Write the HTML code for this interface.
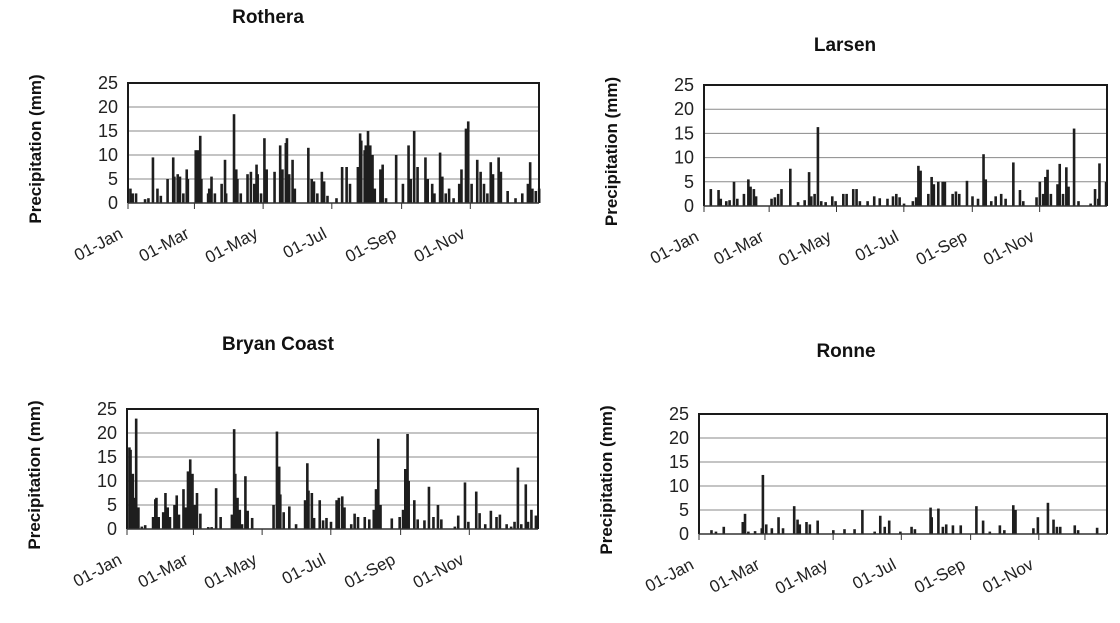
<!DOCTYPE html>
<html><head><meta charset="utf-8"><style>
html,body{margin:0;padding:0;background:#fff;}
svg{display:block;font-family:"Liberation Sans",Arial,sans-serif;}
</style></head><body>
<svg id="root" width="1120" height="623" viewBox="0 0 1120 623"></svg>
<script>
const monthLabels=["01-Jan","01-Mar","01-May","01-Jul","01-Sep","01-Nov"];
const monthDays=[0,59,120,181,243,304];
const yTicks=[0,5,10,15,20,25];
const rotheraDays=[1,3,6,14,17,21,25,28,34,39,40,43,45,48,51,52,59,61,63,64,70,71,73,76,82,85,86,93,95,96,99,105,108,111,113,114,117,120,122,129,134,136,139,140,142,145,147,159,162,164,167,171,173,176,184,189,193,196,203,205,206,209,210,212,214,216,218,223,225,228,237,243,248,250,253,256,263,265,269,271,276,278,281,284,288,293,295,299,301,304,309,312,315,318,321,323,328,330,336,343,349,354,356,358,361,364];
const rotheraVals=[3,2,2,0.8,1,9.5,3,1.5,5,9.5,5.5,6,5.5,2,7,5,11,11,14,5,2,3,5.5,2,4,9,2,18.5,7,5,2,6,6.5,4,8,6,2,13.5,7,6.5,12,7,12.5,13.5,6,9,3,11.5,5,4.5,2,6.5,4.5,1.5,1,7.5,7.5,4,7.5,14.5,13,11,12,15,12,10,3,7,8,1,10,4,12,5,15,7.5,9.5,5,4,2,10.5,5.5,2,3,1,4,7,15.5,17,4,9,6.5,4,2,8.5,6,9.5,6.5,2.5,1,2,4,8.5,3,2.5,3];
const larsenDays=[5,12,14,19,22,26,29,35,39,41,44,46,60,63,66,69,77,84,90,94,96,99,102,105,109,115,118,125,128,134,137,140,147,153,158,165,170,173,176,180,188,191,193,195,202,205,207,211,215,217,224,227,230,237,242,247,252,254,259,263,268,272,279,285,288,300,303,306,308,310,313,319,321,324,327,329,334,338,349,353,356,357,363];
const larsenVals=[3.5,3.3,1.5,1,1.2,5,1.5,2.5,5.5,4,3.5,2,1.5,1.8,2.5,3.5,7.7,0.8,1.2,7,2,2.5,16.3,1,0.8,2,1,2.5,2.5,3.5,3.5,1,1,2,1.6,1.5,2,2.5,1.8,0.5,1,1.8,8.3,7.3,2.5,6,4.5,5,5,5,2.5,3,2.5,5.2,2,1.5,10.7,5.5,1,2,2.5,1.5,9,3.3,1,1.8,5,2.5,6,7.5,2.5,4.5,8.7,2.5,8,4,16,1,0.5,3.5,1.5,8.8,5];
const bryanDays=[1,2,4,5,7,9,12,15,22,24,25,27,31,33,35,37,41,43,45,49,51,53,55,57,59,61,64,71,74,78,82,92,94,95,97,99,101,104,106,110,129,132,134,135,138,143,149,157,159,160,163,165,170,173,176,180,185,187,190,192,198,201,204,210,214,218,220,222,224,234,241,244,246,248,249,254,257,263,267,271,275,278,290,293,299,302,309,312,317,322,327,330,336,340,343,346,349,353,355,358,362];
const bryanVals=[17,16.5,11.5,6.5,23,4.5,0.5,0.8,2.5,6.2,6.5,2.5,3.5,7.5,4.5,2.5,5,7,3,8.3,4.5,12,14.5,11.5,5,7.5,3.2,0.4,0.4,8.5,2.5,3,20.8,11.5,6.5,4,1,11,3.8,2.3,5,20.3,13,7.2,3.5,4.7,1,6,13.7,8,7.5,2.3,6,1.8,2.3,1.5,6,6.5,6.8,4.5,1,3.2,2.5,2.5,2,4,8.3,18.8,5,2.2,2.5,4,12.5,19.8,10,6,2,1.8,8.8,2.5,5,2,0.5,2.8,9.7,1.5,7.8,3.3,1,3.8,2.5,3,1,0.5,1.5,12.8,1,9.3,1.5,4,2.8];
const ronneDays=[10,14,21,38,40,43,49,55,56,59,64,70,74,84,87,89,95,98,105,119,129,138,145,156,161,165,169,179,189,192,206,207,213,217,220,226,233,247,253,259,268,272,280,282,298,302,311,316,319,322,335,338,355];
const ronneVals=[0.8,0.5,1.5,2.5,4.2,0.5,0.6,1.2,12.3,2,1.2,3.5,1.2,5.8,3,2,2.5,2,2.8,0.8,1,1,5,0.5,3.8,1.5,2.8,0.5,1.5,1,5.5,3.5,5.3,1.5,2,1.8,1.8,5.8,2.8,0.5,1.8,0.8,6,5,1.2,3.5,6.5,3,1.5,1.5,1.8,0.8,1.3];

const NS="http://www.w3.org/2000/svg";
const root=document.getElementById('root');
function mk(tag,attrs,parent){const e=document.createElementNS(NS,tag);for(const k in attrs)e.setAttribute(k,attrs[k]);(parent||root).appendChild(e);return e;}

function panel(key,title,titleX,titleY,L,T,R,B,days,vals){
  const g=mk('g',{});
  
  
  const xs=d=>L+(R-L)*d/365;
  const ys=v=>B-(B-T)*v/25;
  const t=mk('text',{x:titleX,y:titleY,'text-anchor':'middle','font-size':19,'font-weight':'bold',fill:'#111'},g);
  t.textContent=title;
  
  
  const yt=mk('text',{transform:`translate(${L-87},${(T+B)/2+6}) rotate(-90)`,'text-anchor':'middle','font-size':17,'font-weight':'bold',fill:'#111'},g);
  yt.textContent='Precipitation (mm)';
  
  
  yTicks.forEach(v=>{
    if(v>0&&v<25){const gl=mk('line',{x1:L,x2:R,y1:ys(v),y2:ys(v),stroke:'#8a8a8a','stroke-width':1},g);
      
      }
    const tl=mk('text',{x:L-10,y:ys(v)+6,'text-anchor':'end','font-size':18,fill:'#222'},g);
    tl.textContent=v;
    
    
  });
  const bw=2.6;
  days.forEach((d,i)=>{
    const b=mk('rect',{x:xs(d),y:ys(vals[i]),width:bw,height:B-ys(vals[i]),fill:'#1e1e1e'},g);
    
    
  });
  const fr=mk('path',{d:`M${L},${B} L${L},${T} L${R},${T} L${R},${B}`,fill:'none',stroke:'#1a1a1a','stroke-width':2},g);
  
  
  const ax=mk('line',{x1:L,x2:R,y1:B,y2:B,stroke:'#333','stroke-width':1.5},g);
  
  
  monthDays.forEach((d,i)=>{
    const x=xs(d);
    const tk=mk('line',{x1:x,x2:x,y1:B,y2:B+6,stroke:'#333','stroke-width':1},g);
    
    
    const lb=mk('text',{transform:`translate(${x-4},${B+34}) rotate(-28)`,'text-anchor':'end','font-size':17,fill:'#222'},g);
    lb.textContent=monthLabels[i];
    
    
  });
}
panel('rothera','Rothera',268,23,128,83,539,203,rotheraDays,rotheraVals);
panel('larsen','Larsen',845,51,704,85,1107,206,larsenDays,larsenVals);
panel('bryan-coast','Bryan Coast',278,350,127,409,538,529,bryanDays,bryanVals);
panel('ronne','Ronne',846,357,699,414,1107,534,ronneDays,ronneVals);
</script>
</body></html>
